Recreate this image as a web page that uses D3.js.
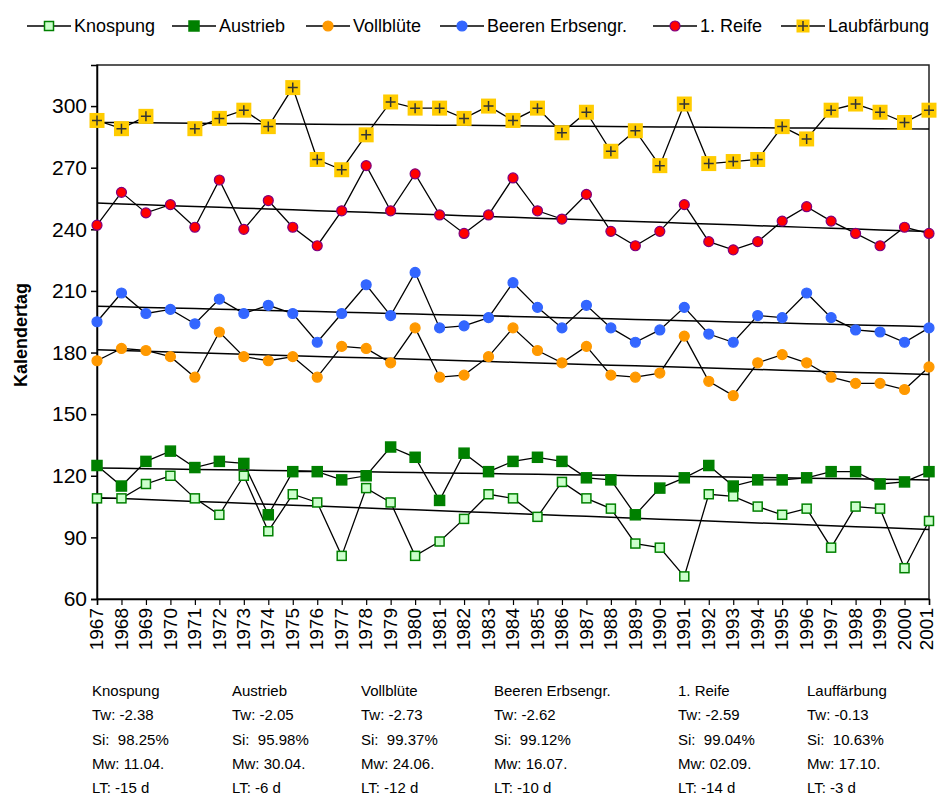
<!DOCTYPE html>
<html>
<head>
<meta charset="utf-8">
<script src="https://cdn.jsdelivr.net/npm/d3@7"></script>
<style>
  body { margin: 0; background: #fff; }
  text { font-family: "Liberation Sans", Arial, sans-serif; fill: #000; }
</style>
</head>
<body>
<svg id="chart" width="937" height="796"></svg>
<script>
// category labels (years)
const years = [1967, 1968, 1969, 1970, 1971, 1972, 1973, 1974, 1975, 1976, 1977, 1978,
  1979, 1980, 1981, 1982, 1983, 1984, 1985, 1986, 1987, 1988, 1989, 1990, 1991, 1992,
  1993, 1994, 1995, 1996, 1997, 1998, 1999, 2000, 2001];

// phenological stage, day of year
const knospung = [109, 109, 116, 120, 109, 101, 120, 93, 111, 107, 81, 114, 107, 81, 88, 99, 111, 109,
  100, 117, 109, 104, 87, 85, 71, 111, 110, 105, 101, 104, 85, 105, 104, 75, 98];
const austrieb = [125, 115, 127, 132, 124, 127, 126, 101, 122, 122, 118, 120, 134, 129, 108, 131, 122, 127,
  129, 127, 119, 118, 101, 114, 119, 125, 115, 118, 118, 119, 122, 122, 116, 117, 122];
const vollbluete = [176, 182, 181, 178, 168, 190, 178, 176, 178, 168, 183, 182, 175, 192, 168, 169, 178, 192,
  181, 175, 183, 169, 168, 170, 188, 166, 159, 175, 179, 175, 168, 165, 165, 162, 173];
const beeren = [195, 209, 199, 201, 194, 206, 199, 203, 199, 185, 199, 213, 198, 219, 192, 193, 197, 214,
  202, 192, 203, 192, 185, 191, 202, 189, 185, 198, 197, 209, 197, 191, 190, 185, 192];
const reife = [242, 258, 248, 252, 241, 264, 240, 254, 241, 232, 249, 271, 249, 267, 247, 238, 247, 265,
  249, 245, 257, 239, 232, 239, 252, 234, 230, 234, 244, 251, 244, 238, 232, 241, 238];
const laubfaerbung = [293, 289, 295, null, 289, 294, 298, 290, 309, 274, 269, 286, 302, 299, 299, 294, 300, 293,
  299, 287, 297, 278, 288, 271, 301, 272, 273, 274, 290, 284, 298, 301, 297, 292, 298];

const seriesNames = ["Knospung", "Austrieb", "Vollblüte", "Beeren Erbsengr.", "1. Reife", "Laubfärbung"];
const yTicks = [60, 90, 120, 150, 180, 210, 240, 270, 300];

// table under the chart
const tableNames = ["Knospung", "Austrieb", "Vollblüte", "Beeren Erbsengr.", "1. Reife", "Lauffärbung"];
const tw = ["-2.38", "-2.05", "-2.73", "-2.62", "-2.59", "-0.13"];
const si = ["98.25%", "95.98%", "99.37%", "99.12%", "99.04%", "10.63%"];
const mw = ["11.04.", "30.04.", "24.06.", "16.07.", "02.09.", "17.10."];
const lt = ["-15 d", "-6 d", "-12 d", "-10 d", "-14 d", "-3 d"];

const series = [
  { name: seriesNames[0], values: knospung, shape: "square", size: 9, fill: "#ccffcc", stroke: "#008000" },
  { name: seriesNames[1], values: austrieb, shape: "square", size: 10, fill: "#008000", stroke: "#008000" },
  { name: seriesNames[2], values: vollbluete, shape: "circle", size: 5, fill: "#ff9900", stroke: "#ff9900" },
  { name: seriesNames[3], values: beeren, shape: "circle", size: 5, fill: "#3366ff", stroke: "#3366ff" },
  { name: seriesNames[4], values: reife, shape: "circle", size: 5, fill: "#ff0000", stroke: "#800080" },
  { name: seriesNames[5], values: laubfaerbung, shape: "plus", size: 15, fill: "#ffcc00", stroke: "#333" }
];

const svg = d3.select("#chart");
const plotLeft = 97, plotRight = 929, plotTop = 65, plotBottom = 599;

const x = d3.scalePoint().domain(years).range([plotLeft, plotRight]);
const y = d3.scaleLinear().domain([60, 320]).range([plotBottom, plotTop]);

// plot frame
svg.append("rect")
  .attr("x", plotLeft).attr("y", plotTop)
  .attr("width", plotRight - plotLeft).attr("height", plotBottom - plotTop)
  .attr("fill", "none").attr("stroke", "#222").attr("stroke-width", 1.5);

// y axis
const yAxis = svg.append("g")
  .attr("transform", `translate(${plotLeft},0)`)
  .call(d3.axisLeft(y).tickValues(yTicks).tickSize(6).tickPadding(4));
yAxis.select(".domain").attr("stroke", "#000").attr("stroke-width", 1.5);
yAxis.selectAll(".tick line").attr("stroke", "#000").attr("stroke-width", 1.5);
yAxis.selectAll("text").style("font-size", "21px").attr("font-family", null);

// x axis
const xAxis = svg.append("g")
  .attr("transform", `translate(0,${plotBottom})`)
  .call(d3.axisBottom(x).tickSize(6));
xAxis.select(".domain").attr("stroke", "#000").attr("stroke-width", 1.5);
xAxis.selectAll(".tick line").attr("stroke", "#000").attr("stroke-width", 1.2);
xAxis.selectAll("text")
  .style("font-size", "19px")
  .attr("font-family", null)
  .attr("transform", "rotate(-90)")
  .attr("text-anchor", "end")
  .attr("x", -9).attr("y", 0)
  // last label sits on the right edge of the page
  .attr("dy", (d, i) => i === years.length - 1 ? "0.2em" : "0.3em");

// y axis title
svg.append("text")
  .attr("transform", "translate(27,335) rotate(-90)")
  .attr("text-anchor", "middle")
  .style("font-size", "18px").style("font-weight", "bold")
  .text("Kalendertag");

// linear trend (least squares) for each series
function trend(values) {
  const pts = years.map((yr, i) => [yr, values[i]]).filter(d => d[1] != null);
  const mx = d3.mean(pts, d => d[0]), my = d3.mean(pts, d => d[1]);
  const b = d3.sum(pts, d => (d[0] - mx) * (d[1] - my)) / d3.sum(pts, d => (d[0] - mx) ** 2);
  return yr => my + b * (yr - mx);
}

const line = d3.line()
  .defined(d => d.v != null)
  .x(d => x(d.year))
  .y(d => y(d.v));

function drawMarker(g, s, cx, cy) {
  if (s.shape === "circle") {
    g.append("circle").attr("cx", cx).attr("cy", cy).attr("r", s.size)
      .attr("fill", s.fill).attr("stroke", s.stroke).attr("stroke-width", 1.2);
  } else if (s.shape === "square") {
    g.append("rect").attr("x", cx - s.size / 2).attr("y", cy - s.size / 2)
      .attr("width", s.size).attr("height", s.size)
      .attr("fill", s.fill).attr("stroke", s.stroke).attr("stroke-width", 1.5);
  } else {
    g.append("rect").attr("x", cx - s.size / 2).attr("y", cy - s.size / 2)
      .attr("width", s.size).attr("height", s.size).attr("fill", s.fill);
    g.append("path")
      .attr("d", `M${cx - 5},${cy}H${cx + 5}M${cx},${cy - 5}V${cy + 5}`)
      .attr("stroke", s.stroke).attr("stroke-width", 1.5);
  }
}

const plot = svg.append("g");

series.forEach(s => {
  const data = years.map((yr, i) => ({ year: yr, v: s.values[i] }));
  const t = trend(s.values);
  plot.append("path")
    .datum(years.map(yr => ({ year: yr, v: t(yr) })))
    .attr("d", line)
    .attr("fill", "none").attr("stroke", "#000").attr("stroke-width", 1.5);
  plot.append("path")
    .datum(data)
    .attr("d", line)
    .attr("fill", "none").attr("stroke", "#000").attr("stroke-width", 1.3);
});

series.forEach(s => {
  const g = plot.append("g");
  years.forEach((yr, i) => {
    if (s.values[i] != null) drawMarker(g, s, x(yr), y(s.values[i]));
  });
});

// legend
const legendX = [27, 172, 306, 440, 653, 781];
const legend = svg.append("g");
series.forEach((s, i) => {
  const lx = legendX[i], ly = 26;
  legend.append("line")
    .attr("x1", lx).attr("x2", lx + 44).attr("y1", ly).attr("y2", ly)
    .attr("stroke", "#000").attr("stroke-width", 1.3);
  drawMarker(legend, s.shape === "plus" ? Object.assign({}, s, { size: 13 }) : s, lx + 22, ly);
  legend.append("text")
    .attr("x", lx + 47).attr("y", ly).attr("dy", "0.35em")
    .style("font-size", "18px")
    .text(s.name);
});

// stats table
const colX = [92, 232, 361, 494, 678, 807];
const rowY = [691, 715, 740, 764, 788];
const table = svg.append("g").style("font-size", "15px");
tableNames.forEach((n, i) => {
  const rows = [n, "Tw: " + tw[i], "Si:  " + si[i], "Mw: " + mw[i], "LT: " + lt[i]];
  rows.forEach((r, j) => {
    table.append("text")
      .attr("x", colX[i]).attr("y", rowY[j]).attr("dy", "0.35em")
      .attr("xml:space", "preserve")
      .style("white-space", "pre")
      .text(r);
  });
});
</script>
</body>
</html>
